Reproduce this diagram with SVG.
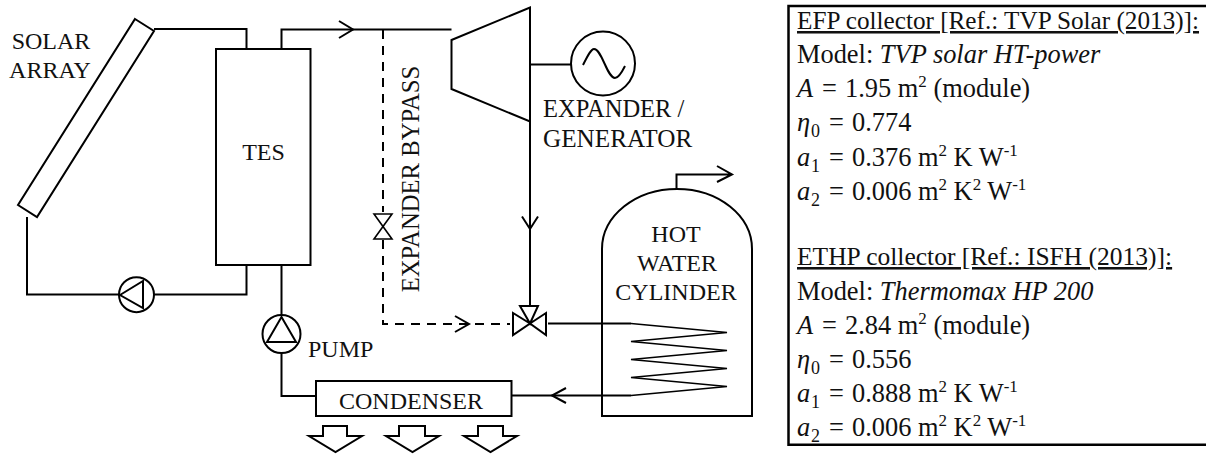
<svg xmlns="http://www.w3.org/2000/svg" width="1206" height="454" viewBox="0 0 1206 454">
<style>
.l{fill:none;stroke:#000;stroke-width:2;stroke-linejoin:miter}
.d{stroke-dasharray:9 7}
.n{stroke-width:1.6}
text{font-family:"Liberation Serif","Times New Roman",serif;font-size:24px;fill:#111}
.m{text-anchor:middle}
#info text{font-size:26.4px}
#info .s{font-size:17px}
#info .b{font-size:18px}
#info .h{font-size:25.2px;text-decoration:underline}
.i{font-style:italic}
</style>
<rect width="1206" height="454" fill="#fff"/>
<g id="connectors" class="l">
<path d="M154 29H246.5V49"/>
<path d="M281.5 49V29.5H451.5"/>
<path d="M339 21L353 29.5L339 38"/>
<path class="d" d="M383 30V212"/>
<path class="d" d="M383 240V324H510"/>
<path d="M455 316L469 324L455 332"/>
<path d="M27 217V294.5H119M154 294.5H246.5V265"/>
<path d="M281.5 265V315M281.5 353V396H316"/>
<path d="M530 121.5V306"/>
<path d="M522 216.5L530 229L538 216.5"/>
<path d="M530 64.5H571"/>
<path d="M548 323.5H631"/>
<path d="M631 395.5H511.5"/>
<path d="M566 388L552 395.5L566 403"/>
<path d="M676.5 189V174.5H732M717 166L732 174.5L717 182"/>
</g>
<g id="solar-array"><path class="l" d="M135 19L154 31L37 217L18 205Z"/><text class="m" x="51" y="49">SOLAR</text><text class="m" x="50" y="78">ARRAY</text></g>
<g id="tes"><rect class="l" x="216" y="49" width="94.5" height="216"/><text class="m" x="263.5" y="160">TES</text></g>
<g id="solar-pump"><circle class="l" cx="136.5" cy="294.7" r="17.5"/><path class="l" d="M120 295L143 281V308Z"/></g>
<g id="pump"><circle class="l" cx="281.5" cy="334" r="19"/><path class="l" d="M281.5 317L267 342H296Z"/><text x="308" y="357">PUMP</text></g>
<g id="bypass-valve"><path class="l n" d="M374 214H392L374 239H392Z"/></g>
<g id="bypass-label"><text class="m" style="font-size:24.7px" transform="translate(419 179) rotate(-90)">EXPANDER BYPASS</text></g>
<g id="expander"><path class="l" d="M451.5 40L530 7.5V121.5L451.5 89Z"/><text x="543" y="117" style="font-size:24.5px">EXPANDER /</text><text x="543" y="147" style="font-size:25.2px">GENERATOR</text></g>
<g id="generator"><circle class="l" cx="603" cy="63.5" r="32"/><path class="l" d="M583 65C588 55 591 49 594 49C602 49 607 78 615 78C618 78 621 74 625 66"/></g>
<g id="three-way-valve"><path class="l" d="M520 306H538L530 323.5ZM513 313V335L530 323.5ZM546 313V335L530 323.5Z"/></g>
<g id="cylinder"><path class="l" d="M602 416V249A75 60 0 0 1 752 249V416Z"/><path class="l n" d="M631 323.5L727 332.5L631 341.5L727 350.5L631 359.5L727 368.5L631 377.5L727 386.5L631 395.5"/><text class="m" x="676" y="242">HOT</text><text class="m" x="677" y="271">WATER</text><text class="m" x="676" y="300">CYLINDER</text></g>
<g id="condenser"><rect class="l" x="316" y="381" width="195.5" height="35"/><text class="m" x="411" y="409">CONDENSER</text><path class="l" d="M323 426H347V436H362L335.5 452L309 436H323Z"/><path class="l" d="M399 426H425V436H439L412.5 452L386 436H399Z"/><path class="l" d="M478 426H503V436H517L490.5 452L464 436H478Z"/></g>
<g id="info">
<path class="l" style="stroke-width:2.5" d="M1206 6H788.5V444.8H1206"/>
<text class="h" x="797" y="29">EFP collector [Ref.: TVP Solar (2013)]:</text>
<text x="797" y="63">Model: <tspan class="i">TVP solar HT-power</tspan></text>
<text x="797" y="97"><tspan class="i">A</tspan><tspan x="822">=</tspan><tspan x="845">1.95 m</tspan><tspan class="s" dy="-10">2</tspan><tspan dy="10"> (module)</tspan></text>
<text x="797" y="131"><tspan class="i">η</tspan><tspan class="b" x="811" dy="5.5">0</tspan><tspan x="829" dy="-5.5">=</tspan><tspan x="852">0.774</tspan></text>
<text x="797" y="166"><tspan class="i">a</tspan><tspan class="b" x="811" dy="5.5">1</tspan><tspan x="829" dy="-5.5">=</tspan><tspan x="852">0.376 m</tspan><tspan class="s" dy="-10">2</tspan><tspan dy="10"> K W</tspan><tspan class="s" dy="-10">-1</tspan></text>
<text x="797" y="200"><tspan class="i">a</tspan><tspan class="b" x="811" dy="5.5">2</tspan><tspan x="829" dy="-5.5">=</tspan><tspan x="852">0.006 m</tspan><tspan class="s" dy="-10">2</tspan><tspan dy="10"> K</tspan><tspan class="s" dy="-10">2</tspan><tspan dy="10"> W</tspan><tspan class="s" dy="-10">-1</tspan></text>
<text class="h" style="font-size:25.5px" x="797" y="265">ETHP collector [Ref.: ISFH (2013)]:</text>
<text x="797" y="300">Model: <tspan class="i">Thermomax HP 200</tspan></text>
<text x="797" y="334"><tspan class="i">A</tspan><tspan x="822">=</tspan><tspan x="845">2.84 m</tspan><tspan class="s" dy="-10">2</tspan><tspan dy="10"> (module)</tspan></text>
<text x="797" y="368"><tspan class="i">η</tspan><tspan class="b" x="811" dy="5.5">0</tspan><tspan x="829" dy="-5.5">=</tspan><tspan x="852">0.556</tspan></text>
<text x="797" y="402"><tspan class="i">a</tspan><tspan class="b" x="811" dy="5.5">1</tspan><tspan x="829" dy="-5.5">=</tspan><tspan x="852">0.888 m</tspan><tspan class="s" dy="-10">2</tspan><tspan dy="10"> K W</tspan><tspan class="s" dy="-10">-1</tspan></text>
<text x="797" y="436"><tspan class="i">a</tspan><tspan class="b" x="811" dy="5.5">2</tspan><tspan x="829" dy="-5.5">=</tspan><tspan x="852">0.006 m</tspan><tspan class="s" dy="-10">2</tspan><tspan dy="10"> K</tspan><tspan class="s" dy="-10">2</tspan><tspan dy="10"> W</tspan><tspan class="s" dy="-10">-1</tspan></text>
</g>
</svg>
